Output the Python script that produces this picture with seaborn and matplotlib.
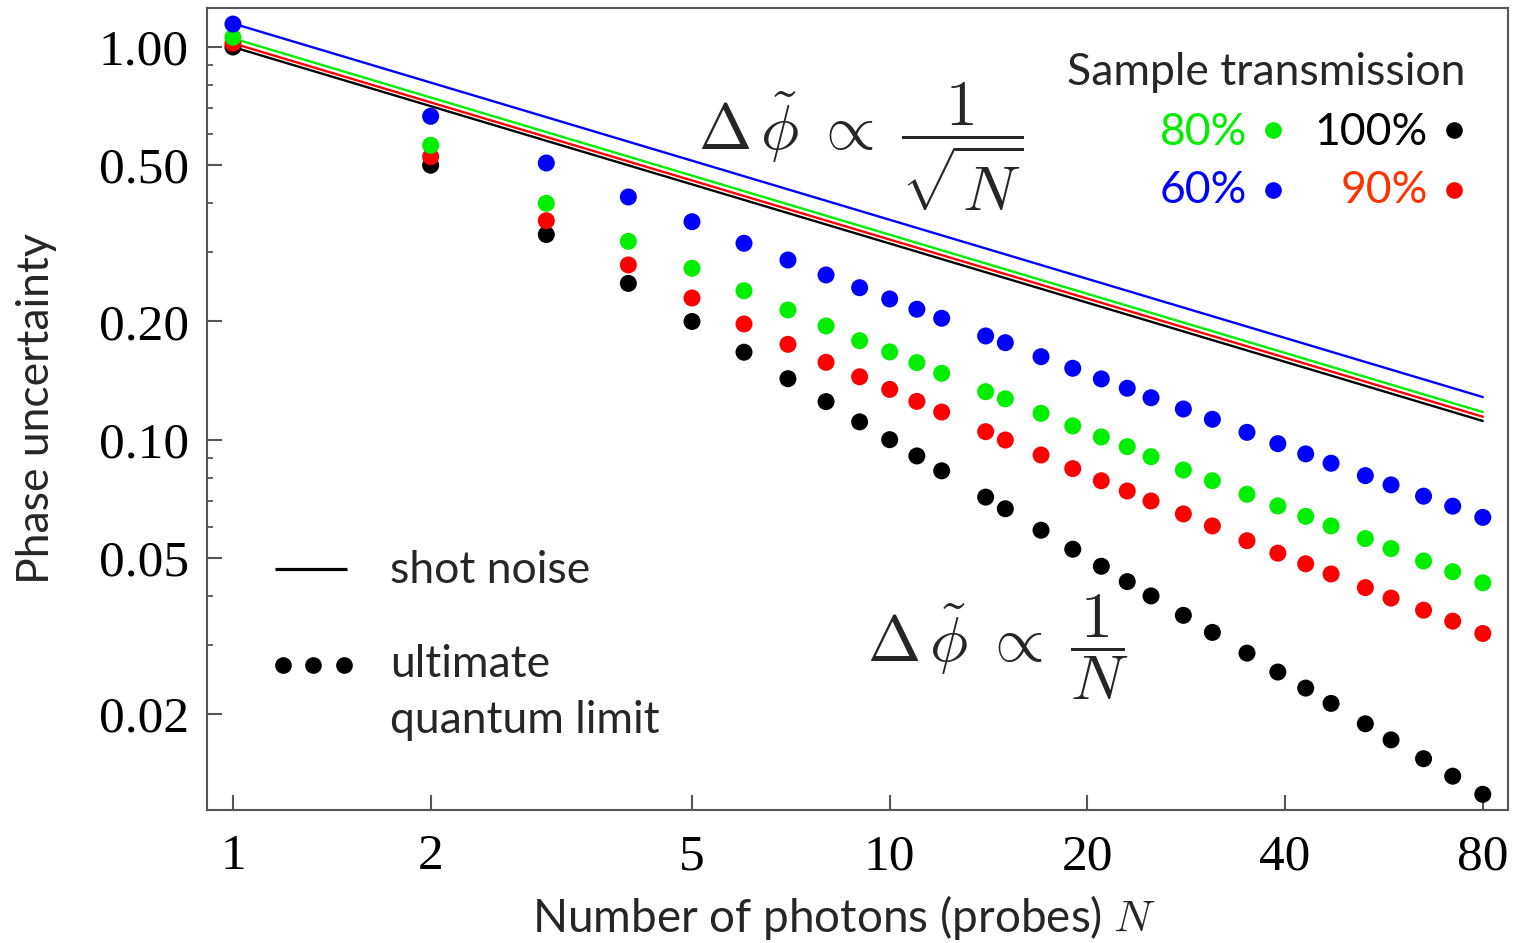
import numpy as np
import pandas as pd
import matplotlib
matplotlib.use("Agg")
import matplotlib.pyplot as plt
import seaborn as sns

# ---------------- data ----------------
N = [1, 2, 3, 4, 5, 6, 7, 8, 9, 10, 11, 12, 14, 15, 17, 19, 21, 23, 25, 28,
     31, 35, 39, 43, 47, 53, 58, 65, 72, 80]

ulq_100 = [1.0, 0.5, 0.333, 0.25, 0.2, 0.167, 0.143, 0.125, 0.111, 0.1,
           0.0909, 0.0833, 0.0714, 0.0667, 0.0588, 0.0526, 0.0476, 0.0435, 0.04, 0.0357,
           0.0323, 0.0286, 0.0256, 0.0233, 0.0213, 0.0189, 0.0172, 0.0154, 0.0139, 0.0125]
ulq_90 = [1.022, 0.5255, 0.3611, 0.2786, 0.2295, 0.1971, 0.1749, 0.1574, 0.1446, 0.1343,
          0.1252, 0.1176, 0.1048, 0.0998, 0.0914, 0.0844, 0.0786, 0.0740, 0.0698, 0.0647,
          0.0603, 0.0553, 0.0514, 0.0483, 0.0455, 0.0420, 0.0395, 0.0368, 0.0345, 0.0321]
ulq_80 = [1.0585, 0.5619, 0.3999, 0.3200, 0.2732, 0.2395, 0.2139, 0.1948, 0.1787, 0.1673,
          0.1571, 0.1476, 0.1325, 0.1271, 0.1167, 0.1084, 0.1016, 0.0960, 0.0905, 0.0837,
          0.0786, 0.0726, 0.0678, 0.0638, 0.0603, 0.0560, 0.0528, 0.0491, 0.0461, 0.0432]
ulq_60 = [1.144, 0.666, 0.5065, 0.415, 0.3590, 0.3163, 0.2868, 0.2627, 0.2438, 0.2282,
          0.2149, 0.2038, 0.1837, 0.1766, 0.1627, 0.1520, 0.1428, 0.1352, 0.1279, 0.1197,
          0.1127, 0.1044, 0.0977, 0.0920, 0.0871, 0.0810, 0.0767, 0.0718, 0.0677, 0.0634]

# shot-noise lines: values at N = 1 and N = 80
shot_N = [1, 80]
shot_100 = [1.0, 0.1116]
shot_90 = [1.022, 0.1144]
shot_80 = [1.052, 0.1176]
shot_60 = [1.148, 0.1284]

series_names = ["100%", "90%", "80%", "60%"]
series_colors = ["#000000", "#ff0000", "#00ee00", "#0000ff"]
label_colors = ["#000000", "#ff3300", "#00ee00", "#0000ff"]

x_ticks = [1, 2, 5, 10, 20, 40, 80]
y_ticks = [0.02, 0.05, 0.10, 0.20, 0.50, 1.00]
y_tick_labels = ["0.02", "0.05", "0.10", "0.20", "0.50", "1.00"]
y_minor = [0.03, 0.04, 0.06, 0.07, 0.08, 0.09, 0.3, 0.4, 0.6, 0.7, 0.8, 0.9]

# ---------------- data frames ----------------
dots = pd.concat([
    pd.DataFrame({"N": N, "value": v, "series": s})
    for s, v in zip(series_names, [ulq_100, ulq_90, ulq_80, ulq_60])
], ignore_index=True)
lines = pd.concat([
    pd.DataFrame({"N": shot_N, "value": v, "series": s})
    for s, v in zip(series_names, [shot_100, shot_90, shot_80, shot_60])
], ignore_index=True)
palette = dict(zip(series_names, series_colors))

# ---------------- style ----------------
sns.set_style("white")
plt.rcParams["font.family"] = ["Lato", "DejaVu Sans"]
plt.rcParams["mathtext.fontset"] = "cm"

W, H = 1523, 943
fig = plt.figure(figsize=(W / 100, H / 100), dpi=100)
L, R, T, B = 207, 1508, 8, 810
ax = fig.add_axes([L / W, 1 - B / H, (R - L) / W, (B - T) / H])

sns.lineplot(data=lines, x="N", y="value", hue="series", palette=palette,
             hue_order=series_names, estimator=None, legend=False,
             linewidth=1.7, ax=ax, zorder=2)
sns.scatterplot(data=dots, x="N", y="value", hue="series", palette=palette,
                hue_order=series_names, s=150, linewidth=0, legend=False,
                ax=ax, zorder=3)

ax.set_xscale("log")
ax.set_yscale("log")
ax.set_xlim(0.913, 87.4)
ax.set_ylim(0.0114, 1.257)

serif = "Liberation Serif"
ax.set_xticks(x_ticks)
ax.set_xticklabels([str(t) for t in x_ticks], fontfamily=serif, fontsize=37)
ax.xaxis.set_minor_locator(matplotlib.ticker.NullLocator())
ax.set_yticks(y_ticks)
ax.set_yticklabels(y_tick_labels, fontfamily=serif, fontsize=37)
ax.set_yticks(y_minor, minor=True)
ax.yaxis.set_minor_formatter(matplotlib.ticker.NullFormatter())

spine_col = "#555555"
for sp in ax.spines.values():
    sp.set_color(spine_col)
    sp.set_linewidth(1.5)
ax.tick_params(axis="both", which="major", direction="in", length=11, width=1.5,
               color=spine_col, labelcolor="black")
ax.tick_params(axis="x", which="major", pad=17, bottom=True, top=False)
ax.tick_params(axis="y", which="major", pad=13, left=True, right=False)
ax.tick_params(axis="y", which="minor", direction="in", length=4.5, width=1.3,
               color=spine_col, left=True, right=False)

ax.set_xlabel(r"Number of photons (probes) $N$", fontsize=33)
ax.set_ylabel("Phase uncertainty", fontsize=32)
ax.xaxis.set_label_coords(0.49, -0.103)
ax.yaxis.set_label_coords(-0.115, 0.5)


def fx(px):
    return (px - L) / (R - L)


def fy(py):
    return (B - py) / (B - T)


tr = ax.transAxes
# formulas
ax.text(fx(861), fy(147), r"$\Delta\,\tilde{\phi}\;\propto\;\dfrac{1}{\sqrt{N}}$",
        transform=tr, fontsize=46, ha="center", va="center")
ax.text(fx(998), fy(647), r"$\Delta\,\tilde{\phi}\;\propto\;\dfrac{1}{N}$",
        transform=tr, fontsize=46, ha="center", va="center")

# top-right legend
ax.text(fx(1465), fy(85), "Sample transmission", transform=tr, fontsize=32,
        ha="right", va="baseline")
leg_pos = {"80%": (1247, 145, 1273, 130), "100%": (1428, 145, 1454, 130),
           "60%": (1247, 203, 1273, 190), "90%": (1428, 203, 1454, 190)}
for name, dcol, tcol in zip(series_names, series_colors, label_colors):
    tx, ty, dx, dy = leg_pos[name]
    ax.text(fx(tx), fy(ty), name, transform=tr, fontsize=32, color=tcol,
            ha="right", va="baseline")
    ax.plot([fx(dx)], [fy(dy)], "o", color=dcol, markersize=12, mec="none",
            transform=tr, clip_on=False)

# bottom-left legend
ax.plot([fx(275), fx(347)], [fy(569), fy(569)], color="black", lw=2.3,
        transform=tr, solid_capstyle="butt")
ax.text(fx(390), fy(583), "shot noise", transform=tr, fontsize=32,
        ha="left", va="baseline")
ax.plot([fx(283), fx(313), fx(344)], [fy(665)] * 3, "o", color="black",
        markersize=12, mec="none", transform=tr, clip_on=False)
ax.text(fx(390), fy(677), "ultimate", transform=tr, fontsize=32,
        ha="left", va="baseline")
ax.text(fx(390), fy(733), "quantum limit", transform=tr, fontsize=32,
        ha="left", va="baseline")

fig.savefig("out.png", dpi=100)
